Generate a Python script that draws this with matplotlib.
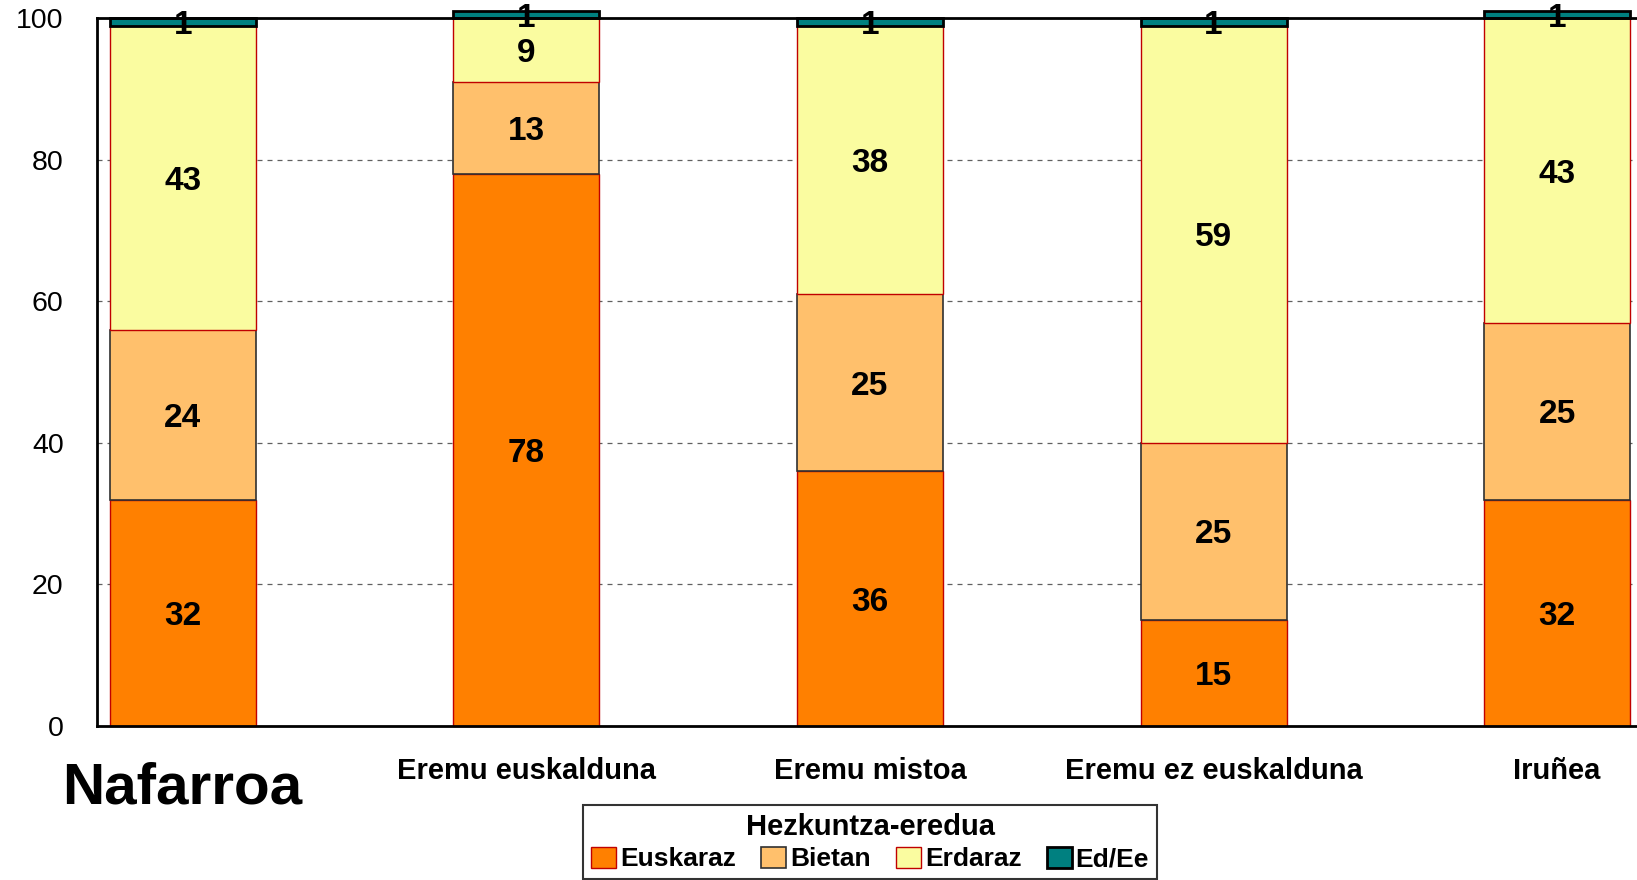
"""Hezkuntza-eredua by zone, Nafarroa: stacked percentage bars."""

import matplotlib
matplotlib.use("Agg")
import matplotlib.pyplot as plt
import matplotlib.transforms as mtransforms
import numpy as np

plt.rcParams["font.family"] = ["Liberation Sans", "DejaVu Sans"]

CATEGORIES = ["Nafarroa", "Eremu euskalduna", "Eremu mistoa",
              "Eremu ez euskalduna", "Iruñea"]
SERIES = ["Euskaraz", "Bietan", "Erdaraz", "Ed/Ee"]
EUSKARAZ = [32, 78, 36, 15, 32]
BIETAN = [24, 13, 25, 25, 25]
ERDARAZ = [43, 9, 38, 59, 43]
ED_EE = [1, 1, 1, 1, 1]

FACE = ["#ff8000", "#ffc06c", "#fafca0", "#008080"]
EDGE = ["#c00000", "#303030", "#c00000", "#000000"]
LW = [1.0, 1.2, 1.0, 2.0]

YTICKS = [0, 20, 40, 60, 80, 100]


def main():
    fig = plt.figure(figsize=(16.37, 8.8), dpi=100)
    ax = fig.add_axes([0.0593, 0.175, 0.9444, 0.804])

    x = np.arange(len(CATEGORIES))
    bottom = np.zeros(len(CATEGORIES))
    for name, vals, fc, ec, lw in zip(SERIES, [EUSKARAZ, BIETAN, ERDARAZ, ED_EE],
                                      FACE, EDGE, LW):
        vals = np.array(vals, dtype=float)
        ax.bar(x, vals, 0.425, bottom=bottom, color=fc, edgecolor=ec,
               linewidth=lw, label=name, clip_on=False, zorder=2)
        for xi, b, v in zip(x, bottom, vals):
            ax.text(xi, b + v / 2, f"{v:.0f}", ha="center", va="center_baseline",
                    fontsize=24, fontweight="bold", zorder=4, clip_on=False)
        bottom += vals

    ax.set_xlim(-0.249, 4.25)
    ax.set_ylim(0, 100)
    ax.set_yticks(YTICKS)
    ax.tick_params(axis="y", length=0, pad=24, labelsize=20.5)
    ax.set_xticks(x)
    ax.set_xticklabels(CATEGORIES, fontsize=21, fontweight="bold")
    ax.tick_params(axis="x", length=0, pad=22.5)
    # the region name is printed much larger and a little lower
    big = ax.get_xticklabels()[0]
    big.set_fontsize(42)
    big.set_transform(big.get_transform() +
                      mtransforms.ScaledTranslation(0, -4 / 100, fig.dpi_scale_trans))

    ax.yaxis.grid(True, linestyle=(0, (4, 4)), color="#606060", linewidth=0.9)
    ax.set_axisbelow(True)
    for s in ["left", "bottom", "top"]:
        ax.spines[s].set_linewidth(2)
        ax.spines[s].set_zorder(3)
    ax.spines["right"].set_visible(False)

    leg = fig.legend(loc="lower center", bbox_to_anchor=(0.5315, -0.014), ncol=4,
                     title="Hezkuntza-eredua", frameon=True, fancybox=False,
                     edgecolor="black", handlelength=0.95, handleheight=0.85,
                     handletextpad=0.15, columnspacing=0.95, borderpad=0.3,
                     labelspacing=0.2, prop={"size": 19, "weight": "bold"})
    leg.get_title().set_fontsize(21)
    leg.get_title().set_fontweight("bold")
    leg.get_frame().set_linewidth(1.5)

    fig.savefig("out.png", dpi=100)


if __name__ == "__main__":
    main()
